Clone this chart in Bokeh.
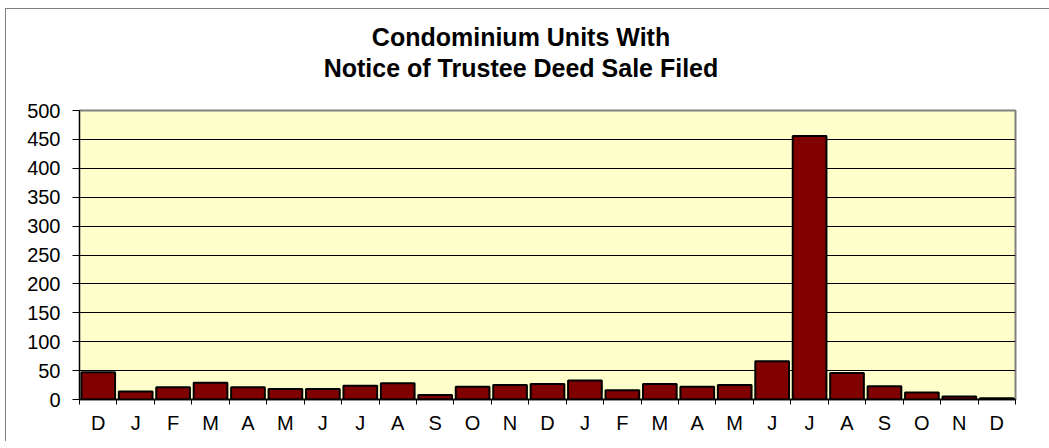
import numpy as np
from bokeh.plotting import figure
from bokeh.models import Range1d, FixedTicker, ColumnDataSource, Div
from bokeh.layouts import column
from bokeh.embed import file_html
from bokeh.resources import INLINE

months = ["D", "J", "F", "M", "A", "M", "J", "J", "A", "S", "O", "N",
          "D", "J", "F", "M", "A", "M", "J", "J", "A", "S", "O", "N", "D"]
units = [47, 14, 21, 29, 21, 18, 18, 24, 28, 8, 22, 25,
         27, 33, 16, 27, 22, 25, 66, 456, 46, 23, 12, 5, 2]
y_ticks = [0, 50, 100, 150, 200, 250, 300, 350, 400, 450, 500]
title_lines = ["Condominium Units With", "Notice of Trustee Deed Sale Filed"]

n = len(months)
centers = [i + 0.5 for i in range(n)]
bounds = list(range(n + 1))

GRAY = "#808080"

title_html = ('<div style="width:1042px;padding-top:22px;text-align:center;'
              "font-family:'Liberation Sans',Arial,sans-serif;font-weight:bold;"
              'font-size:25px;line-height:31px;color:#000000;">'
              + "<br>".join(title_lines) + "</div>")
title_div = Div(text=title_html, width=1049, height=101, margin=0,
                styles={"background": (f"linear-gradient({GRAY},{GRAY}) 5px 8px / 100% 1px no-repeat, "
                                       f"linear-gradient({GRAY},{GRAY}) 5px 8px / 1px 100% no-repeat")})

src = ColumnDataSource(dict(x=centers, top=units, m=months))

p = figure(width=1049, height=340, output_backend="svg", toolbar_location=None,
           x_range=Range1d(0, n), y_range=Range1d(0, 500),
           min_border_left=79, min_border_right=34, min_border_top=9,
           min_border_bottom=42, margin=0)
p.styles = {"background": f"linear-gradient({GRAY},{GRAY}) 5px 0 / 1px 100% no-repeat"}
p.background_fill_color = "#FFFFCC"
p.border_fill_color = None
p.outline_line_color = GRAY
p.outline_line_width = 2
p.title.visible = False

p.vbar(x="x", top="top", width=0.9, bottom=0, source=src,
       fill_color="#800000", line_color="black", line_width=2)

# y axis
p.yaxis.ticker = FixedTicker(ticks=y_ticks)
p.yaxis.major_tick_out = 7
p.yaxis.major_tick_in = 0
p.yaxis.minor_tick_line_color = None
p.yaxis.major_label_standoff = 12
p.yaxis.axis_line_color = "black"
p.yaxis.major_tick_line_color = "black"
p.yaxis.major_label_text_font = "Liberation Sans"
p.yaxis.major_label_text_font_size = "20px"
p.yaxis.major_label_text_color = "black"

# x axis: labels at centers, tick marks at category boundaries
p.xaxis.ticker = FixedTicker(ticks=centers, minor_ticks=bounds)
p.xaxis.major_label_overrides = {c: m for c, m in zip(centers, months)}
p.xaxis.major_tick_line_color = None
p.xaxis.major_tick_out = 0
p.xaxis.major_tick_in = 0
p.xaxis.minor_tick_out = 5
p.xaxis.minor_tick_in = 0
p.xaxis.minor_tick_line_color = "black"
p.xaxis.major_label_standoff = 7
p.xaxis.axis_line_color = "black"
p.xaxis.axis_line_width = 1.5
p.xaxis.major_label_text_font = "Liberation Sans"
p.xaxis.major_label_text_font_size = "20px"
p.xaxis.major_label_text_color = "black"

p.xgrid.grid_line_color = None
p.ygrid.ticker = FixedTicker(ticks=y_ticks[1:-1])
p.ygrid.grid_line_color = "black"
p.ygrid.grid_line_width = 1

layout = column(title_div, p, spacing=0, margin=0)
open("out.html", "w").write(file_html(layout, INLINE))
